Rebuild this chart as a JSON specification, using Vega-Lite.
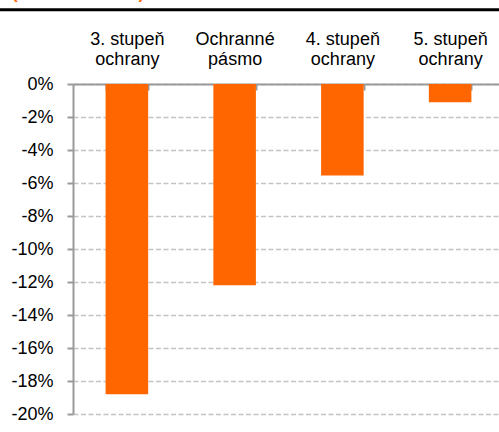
{
  "$schema": "https://vega.github.io/schema/vega-lite/v6.json",
  "autosize": "none",
  "width": 426,
  "height": 330,
  "padding": {"left": 73, "top": 84, "right": 0, "bottom": 18},
  "background": "white",
  "config": {"view": {"stroke": null}},
  "title": {
    "text": "(změna cen v %)",
    "color": "#FF6600",
    "font": "Liberation Sans",
    "fontSize": 17,
    "fontWeight": "bold",
    "anchor": "start",
    "frame": "group",
    "dx": -61,
    "dy": 8,
    "offset": 0,
    "baseline": "alphabetic"
  },
  "encoding": {
    "y": {
      "field": "v",
      "type": "quantitative",
      "scale": {"domain": [-20, 0], "nice": false},
      "axis": {
        "title": null,
        "values": [-20, -18, -16, -14, -12, -10, -8, -6, -4, -2, 0],
        "labelOverlap": false,
        "labelExpr": "datum.value + '%'",
        "labelFont": "Liberation Sans",
        "labelFontSize": 18,
        "labelColor": "#000000",
        "labelPadding": 14,
        "tickSize": 6,
        "tickColor": "#9a9a9a",
        "tickWidth": 2,
        "domainColor": "#9a9a9a",
        "domainWidth": 2,
        "grid": true,
        "gridColor": "#c4c4c4",
        "gridWidth": 1.5,
        "gridDash": [5, 2.5]
      }
    }
  },
  "layer": [
    {
      "data": {
        "values": [
          {"cat": "3. stupeň|ochrany", "v": -18.8},
          {"cat": "Ochranné|pásmo", "v": -12.2},
          {"cat": "4. stupeň|ochrany", "v": -5.55},
          {"cat": "5. stupeň|ochrany", "v": -1.1}
        ]
      },
      "mark": {"type": "bar", "color": "#FF6600"},
      "encoding": {
        "x": {
          "field": "cat",
          "type": "nominal",
          "sort": null,
          "scale": {"range": [0, 431], "paddingInner": 0.605, "paddingOuter": 0.3025},
          "axis": {
            "orient": "top",
            "title": null,
            "labelExpr": "split(datum.label, '|')",
            "labelAngle": 0,
            "labelFont": "Liberation Sans",
            "labelFontSize": 18,
            "labelColor": "#000000",
            "labelLineHeight": 20,
            "labelPadding": 42,
            "tickBand": "extent",
            "tickSize": -6,
            "tickColor": "#9a9a9a",
            "tickWidth": 2,
            "domainColor": "#9a9a9a",
            "domainWidth": 2,
            "grid": false
          }
        }
      }
    },
    {
      "data": {"values": [{"v": 4.5, "x0": -0.1714, "x1": 1}]},
      "mark": {"type": "rule", "color": "#000000", "strokeWidth": 3},
      "encoding": {
        "x": {"field": "x0", "type": "quantitative", "scale": {"domain": [0, 1]}, "axis": null},
        "x2": {"field": "x1"}
      }
    }
  ],
  "resolve": {"scale": {"x": "independent"}, "axis": {"x": "independent"}}
}
